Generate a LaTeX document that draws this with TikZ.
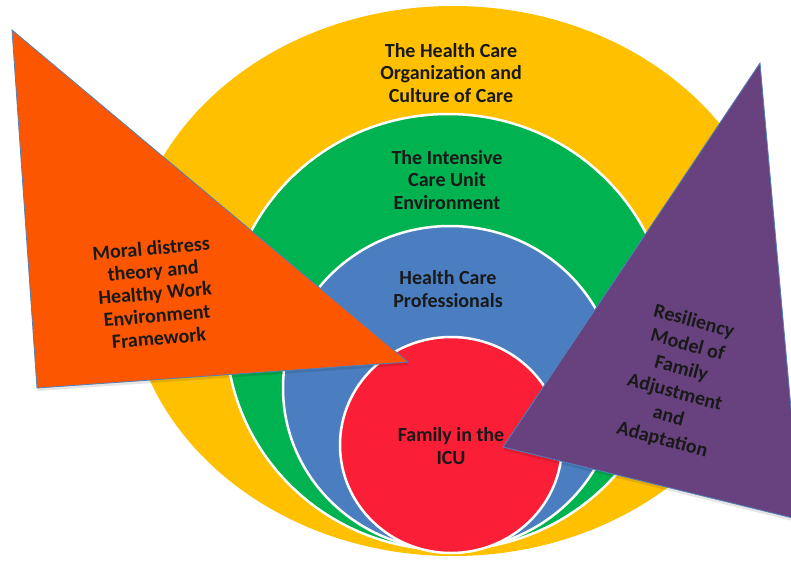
\documentclass[tikz,border=0pt]{standalone}
\usepackage{fontspec}
\setmainfont{Carlito}
\usetikzlibrary{shapes.geometric}
\definecolor{cyellow}{RGB}{255,192,0}
\definecolor{cgreen}{RGB}{0,178,80}
\definecolor{cblue}{RGB}{74,126,192}
\definecolor{cred}{RGB}{250,30,55}
\definecolor{corange}{RGB}{252,86,0}
\definecolor{cpurple}{RGB}{104,66,126}
\definecolor{cedge}{RGB}{79,129,189}
\begin{document}
\begin{tikzpicture}[x=1pt,y=-1pt,
  ring/.style={ellipse, draw=white, line width=2.5pt, inner sep=0pt, outer sep=0pt},
  lbl/.style={font=\bfseries\fontsize{20}{22.5}\selectfont, align=center, text=black!90, inner sep=0pt},
  tri/.style={draw=cedge, line width=0.8pt, line join=miter},
  shade/.style={fill=black, opacity=0.1}]
\useasboundingbox (0,0) rectangle (791,560);
\clip (0,0) rectangle (791,560);
% nested circles
\node[ring, fill=cyellow, draw=none, minimum width=650pt, minimum height=550pt] (org) at (453,281) {};
\node[ring, fill=cgreen, minimum width=444pt, minimum height=436pt] (icu) at (448,332) {};
\node[ring, fill=cblue, minimum width=334pt, minimum height=324pt] (hcp) at (450,388) {};
\node[ring, fill=cred, minimum width=222pt, minimum height=216pt] (fam) at (451,445) {};
% triangles
\coordinate (oa) at (12,30);
\coordinate (ob) at (408,362);
\coordinate (oc) at (37,388);
\coordinate (pa) at (760,63);
\coordinate (pb) at (503,447);
\coordinate (pc) at (801,520);
\fill[shade] ([shift={(1,3)}]oa) -- ([shift={(1,3)}]ob) -- ([shift={(1,3)}]oc) -- cycle;
\fill[shade] ([shift={(0,3)}]pa) -- ([shift={(0,3)}]pb) -- ([shift={(0,3)}]pc) -- cycle;
\draw[tri, fill=corange] (oa) -- (ob) -- (oc) -- cycle;
\draw[tri, fill=cpurple] (pa) -- (pb) -- (pc) -- cycle;
% labels
\node[lbl] (t1) at (451,73) {The Health Care\\Organization and\\Culture of Care};
\node[lbl] (t2) at (447,180) {The Intensive\\Care Unit\\Environment};
\node[lbl] (t3) at (448,289) {Health Care\\Professionals};
\node[lbl] (t4) at (451,446) {Family in the\\ICU};
\node[lbl, rotate=5] (t5) at (155,293) {Moral distress\\theory and\\Healthy Work\\Environment\\Framework};
\node[lbl, rotate=-15, font=\bfseries\fontsize{20}{24.5}\selectfont] (t6) at (678,381) {Resiliency\\Model of\\Family\\Adjustment\\and\\Adaptation};
\end{tikzpicture}
\end{document}
